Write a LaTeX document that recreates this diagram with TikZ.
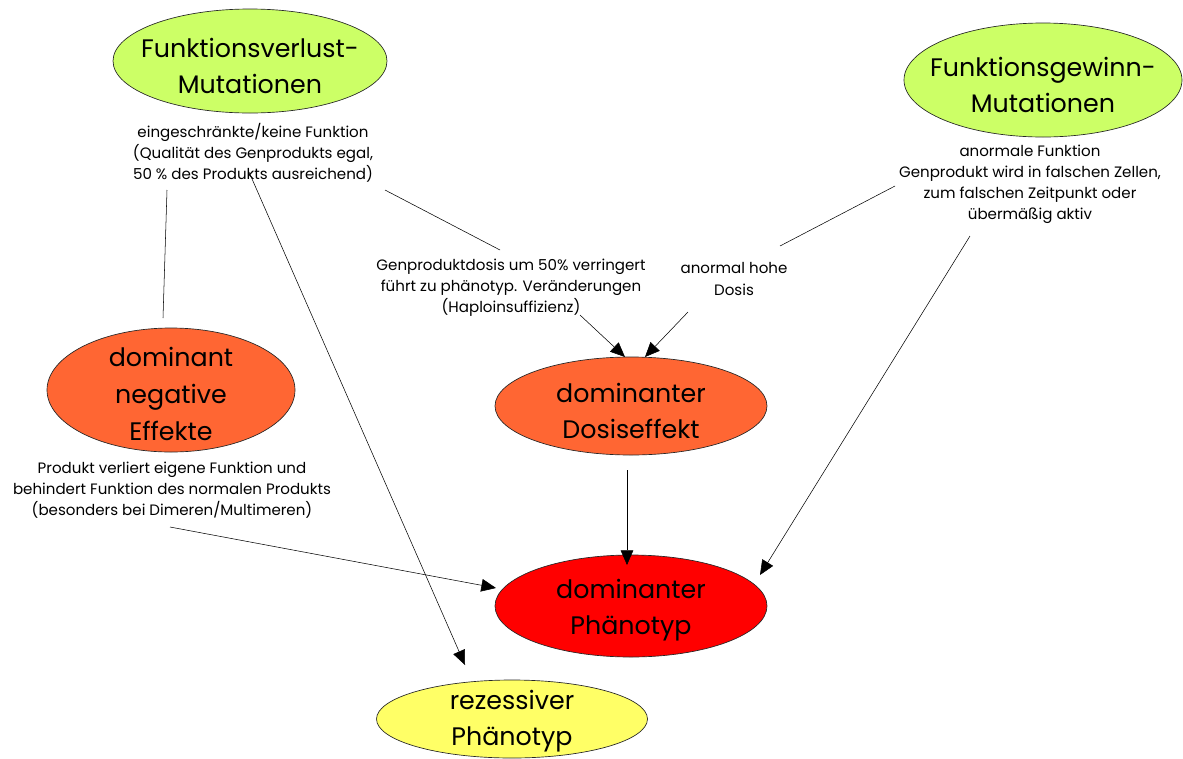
\documentclass[tikz,border=0pt]{standalone}
\usepackage{fontspec}
\setmainfont{Poppins}
\usetikzlibrary{arrows.meta,shapes.geometric}
\definecolor{lgreen}{RGB}{204,255,102}
\definecolor{orng}{RGB}{255,102,51}
\definecolor{rred}{RGB}{255,0,0}
\definecolor{lyel}{RGB}{255,255,102}
\begin{document}
\begin{tikzpicture}[x=0.75pt,y=-0.75pt,
 blob/.style={ellipse, draw=black!85, line width=0.5pt, inner sep=0pt},
 big/.style={font=\fontsize{19}{27.5}\selectfont, align=center, inner sep=0pt},
 small/.style={font=\fontsize{11.3}{15.8}\selectfont, align=center, inner sep=0pt},
 arr/.style={-{Triangle[length=11pt,width=9.5pt]}, line width=0.4pt},
 ln/.style={line width=0.4pt}]
\useasboundingbox (0,0) rectangle (1183,758);
% ellipses
\node[blob, fill=lgreen, minimum width=274*0.75pt, minimum height=104*0.75pt] (fv) at (250,61) {};
\node[blob, fill=lgreen, minimum width=278*0.75pt, minimum height=114*0.75pt] (fg) at (1043,80) {};
\node[blob, fill=orng, minimum width=248*0.75pt, minimum height=124*0.75pt] (dn) at (171,390) {};
\node[blob, fill=orng, minimum width=272*0.75pt, minimum height=98*0.75pt] (dd) at (631,406) {};
\node[blob, fill=rred, minimum width=272*0.75pt, minimum height=102*0.75pt] (dp) at (631,606) {};
\node[blob, fill=lyel, minimum width=271*0.75pt, minimum height=78*0.75pt] (rp) at (512,719) {};
% ellipse texts
\node[big] (tfv) at (250,66) {Funktionsverlust-\\Mutationen};
\node[big] (tfg) at (1043,85) {Funktionsgewinn-\\Mutationen};
\node[big] (tdn) at (171,394) {dominant\\negative\\Effekte};
\node[big] (tdd) at (631,411) {dominanter\\Dosiseffekt};
\node[big] (tdp) at (631,610) {dominanter\\Phänotyp};
\node[big] (trp) at (512,721) {rezessiver\\Phänotyp};
% labels
\node[small] (lfv) at (253,153) {eingeschränkte/keine Funktion\\(Qualität des Genprodukts egal,\\50 \% des Produkts ausreichend)};
\node[small] (lfg) at (1030,184) {anormale Funktion\\Genprodukt wird in falschen Zellen,\\zum falschen Zeitpunkt oder\\übermäßig aktiv};
\node[small] (lhi) at (511,288) {Genproduktdosis um 50\% verringert\\führt zu phänotyp. Veränderungen\\(Haploinsuffizienz)};
\node[small] (lah) at (734,279) {anormal hohe\\Dosis};
\node[small] (ldn) at (172,490) {Produkt verliert eigene Funktion und\\behindert Funktion des normalen Produkts\\(besonders bei Dimeren/Multimeren)};
% connector end points
\coordinate (a1) at (167,190); \coordinate (a2) at (163,318);
\coordinate (b1) at (249,172); \coordinate (b2) at (465,665);
\coordinate (c1) at (385,190); \coordinate (c2) at (500,250);
\coordinate (c3) at (580,315); \coordinate (c4) at (625,357);
\coordinate (d1) at (895,186); \coordinate (d2) at (780,246);
\coordinate (d3) at (688,312); \coordinate (d4) at (645,357);
\coordinate (e1) at (970,236); \coordinate (e2) at (760,575);
\coordinate (f1) at (627,470); \coordinate (f2) at (627,565);
\coordinate (g1) at (170,527); \coordinate (g2) at (496,588);
% connectors
\draw[ln] (a1) -- (a2);
\draw[arr] (b1) -- (b2);
\draw[ln] (c1) -- (c2);
\draw[arr] (c3) -- (c4);
\draw[ln] (d1) -- (d2);
\draw[arr] (d3) -- (d4);
\draw[arr] (e1) -- (e2);
\draw[arr] (f1) -- (f2);
\draw[arr] (g1) -- (g2);
\end{tikzpicture}
\end{document}
